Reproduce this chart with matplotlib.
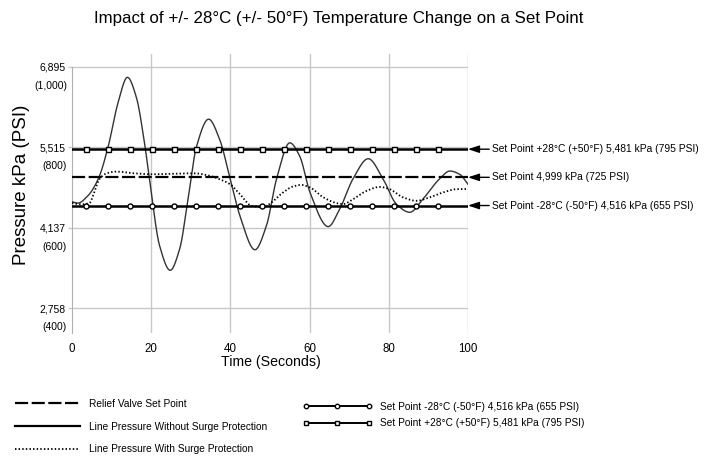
import numpy as np
import matplotlib
matplotlib.use("Agg")
import matplotlib.pyplot as plt
from matplotlib.lines import Line2D
from matplotlib.transforms import offset_copy, blended_transform_factory

NARROW = ["Liberation Sans Narrow", "Liberation Sans", "DejaVu Sans"]
REGULAR = ["Liberation Sans", "DejaVu Sans"]

# ---------------- data ----------------
time_no_surge = [0, 1.5, 4.0, 6.7, 9.1, 11.6, 14.0, 16.2, 18.3, 20.0, 22.1, 24.8,
                 27.2, 29.3, 31.4, 34.5, 37.3, 39.9, 42.4, 46.2, 49.1, 51.7, 55.0,
                 57.5, 60.1, 64.7, 67.6, 71.0, 74.8, 78.6, 81.9, 85.3, 88.6, 92.9,
                 95.4, 97.9, 100]
press_no_surge = [4580, 4558, 4682, 4983, 5515, 6270, 6712, 6382, 5590, 4740, 3832, 3407,
                  3776, 4626, 5515, 5995, 5646, 4983, 4342, 3759, 4172, 4983, 5590,
                  5362, 4740, 4155, 4456, 4978, 5318, 4966, 4541, 4400, 4626, 4978,
                  5107, 5051, 4881]

time_surge = [0, 2.3, 4.4, 5.6, 6.9, 8.6, 11.1, 15.7, 19.9, 26.6, 30.8, 34.5, 37.3,
              39.9, 42.4, 45.3, 48.3, 50.4, 53.3, 55.8, 57.9, 60.1, 63.5, 66.8, 68.5,
              71.0, 74.4, 77.7, 80.2, 83.6, 87.0, 90.3, 93.7, 97.1, 100]
press_surge = [4558, 4536, 4558, 4740, 4966, 5063, 5097, 5068, 5051, 5063, 5068, 5030, 4966,
               4881, 4711, 4512, 4485, 4570, 4740, 4842, 4869, 4825, 4655, 4558, 4541,
               4626, 4767, 4835, 4796, 4655, 4597, 4655, 4740, 4796, 4800]

relief_set_point = 4999
set_point_cold = 4516
set_point_hot = 5481
time_range = [0, 100]
marker_times = [3.5, 9.0, 14.7, 20.2, 25.8, 31.3, 36.9, 42.5, 48.0, 53.6, 59.1,
                64.7, 70.2, 75.8, 81.3, 86.9, 92.5]

y_ticks_kpa = [2758, 4137, 5515, 6895]
y_ticks_kpa_labels = ["2,758", "4,137", "5,515", "6,895"]
y_ticks_psi_labels = ["(400)", "(600)", "(800)", "(1,000)"]
x_ticks = [0, 20, 40, 60, 80, 100]

title = "Impact of +/- 28°C (+/- 50°F) Temperature Change on a Set Point"
ann_hot = "Set Point +28°C (+50°F) 5,481 kPa (795 PSI)"
ann_relief = "Set Point 4,999 kPa (725 PSI)"
ann_cold = "Set Point -28°C (-50°F) 4,516 kPa (655 PSI)"
legend_left = ["Relief Valve Set Point", "Line Pressure Without Surge Protection",
               "Line Pressure With Surge Protection"]
legend_right = ["Set Point -28°C (-50°F) 4,516 kPa (655 PSI)",
                "Set Point +28°C (+50°F) 5,481 kPa (795 PSI)"]


def pchip(x, y, xs):
    x = np.asarray(x, float)
    y = np.asarray(y, float)
    h = np.diff(x)
    delta = np.diff(y) / h
    n = len(x)
    d = np.zeros(n)
    for k in range(1, n - 1):
        if delta[k - 1] * delta[k] > 0:
            w1 = 2 * h[k] + h[k - 1]
            w2 = h[k] + 2 * h[k - 1]
            d[k] = (w1 + w2) / (w1 / delta[k - 1] + w2 / delta[k])
    d[0] = delta[0]
    d[-1] = delta[-1]
    idx = np.clip(np.searchsorted(x, xs) - 1, 0, n - 2)
    t = (xs - x[idx]) / h[idx]
    h00 = 2 * t**3 - 3 * t**2 + 1
    h10 = t**3 - 2 * t**2 + t
    h01 = -2 * t**3 + 3 * t**2
    h11 = t**3 - t**2
    return h00 * y[idx] + h10 * h[idx] * d[idx] + h01 * y[idx + 1] + h11 * h[idx] * d[idx + 1]


W, H = 709, 457
fig = plt.figure(figsize=(W / 100, H / 100), dpi=100)
ax = fig.add_axes([72 / W, 1 - 333 / H, (468 - 72) / W, (333 - 54) / H])

grid_c = "#c8c8c8"
ax.set_xlim(0, 100)
ax.set_ylim(2333, 7111)
ax.set_xticks(x_ticks)
ax.set_yticks(y_ticks_kpa)
ax.set_yticklabels(y_ticks_kpa_labels, fontfamily=NARROW, fontsize=7.5)
ax.set_xticklabels([str(v) for v in x_ticks], fontfamily=NARROW, fontsize=8.3)
ax.grid(True, color=grid_c, linewidth=1.0)
ax.xaxis.get_gridlines()[0].set_visible(False)
ax.tick_params(axis="x", length=0, pad=7.5)
ax.tick_params(axis="y", length=3, width=1, color=grid_c, pad=1.5)
for s in ["top", "right", "bottom"]:
    ax.spines[s].set_visible(False)
ax.spines["left"].set_color("#b0b0b0")
ax.spines["left"].set_bounds(2333, 6895)
ax.set_axisbelow(True)

# psi secondary labels under the kPa tick labels
trans = blended_transform_factory(ax.transAxes, ax.transData)
trans_psi = offset_copy(trans, fig=fig, x=-5, y=-19, units="dots")
for v, lab in zip(y_ticks_kpa, y_ticks_psi_labels):
    ax.text(0, v, lab, transform=trans_psi, ha="right", va="center",
            fontfamily=NARROW, fontsize=7.5)

# curves
ts = np.linspace(0, 100, 1200)
ax.plot(ts, pchip(time_no_surge, press_no_surge, ts), color="#333333", lw=1.0, zorder=3)
ax.plot(ts, pchip(time_surge, press_surge, ts), color="black", lw=1.3,
        linestyle=(0, (0.8, 1.2)), zorder=3)

# relief set point dashed
dash_style = (0, (5.9, 1.6))
ax.plot(time_range, [relief_set_point] * 2, color="black", lw=1.6, linestyle=dash_style, zorder=4)

# set point lines with markers
ax.plot(time_range, [set_point_hot] * 2, color="black", lw=1.8, zorder=4)
ax.plot(marker_times, [set_point_hot] * len(marker_times), linestyle="none", marker="s",
        markersize=3.6, markerfacecolor="white", markeredgecolor="black", mew=1.0, zorder=5)
ax.plot(time_range, [set_point_cold] * 2, color="black", lw=1.8, zorder=4)
ax.plot(marker_times, [set_point_cold] * len(marker_times), linestyle="none", marker="o",
        markersize=3.6, markerfacecolor="white", markeredgecolor="black", mew=1.0, zorder=5)

# annotations on the right
for v, txt in [(set_point_hot, ann_hot), (relief_set_point, ann_relief), (set_point_cold, ann_cold)]:
    ax.annotate(txt, xy=(100, v), xycoords="data", xytext=(24 * 0.72, 0),
                textcoords="offset points", ha="left", va="center",
                fontfamily=NARROW, fontsize=7.4, annotation_clip=False,
                arrowprops=dict(arrowstyle="-|>,head_length=0.9,head_width=0.3",
                                color="black", lw=1.0, shrinkA=0, shrinkB=0))

# titles
fig.text(339 / W, 1 - 18 / H, title, ha="center", va="center", fontfamily=NARROW, fontsize=12.2)
fig.text(22 / W, 1 - 185 / H, "Pressure kPa (PSI)", ha="center", va="center",
         rotation=90, fontfamily=REGULAR, fontsize=13.5)
fig.text(271 / W, 1 - 362 / H, "Time (Seconds)", ha="center", va="center",
         fontfamily=NARROW, fontsize=10.2)

# legends
h_left = [Line2D([], [], color="black", lw=1.6, linestyle=dash_style),
          Line2D([], [], color="black", lw=1.6),
          Line2D([], [], color="black", lw=1.3, linestyle=(0, (0.8, 1.2)))]
leg1 = fig.legend(h_left, legend_left, loc="upper left",
                  bbox_to_anchor=(15 / W, 1 - 399 / H), frameon=False,
                  prop={"family": NARROW, "size": 7.3}, handlelength=6.4,
                  handletextpad=0.9, labelspacing=1.25, borderpad=0, borderaxespad=0)

h_right = [Line2D([], [], color="black", lw=1.4, marker="o", markersize=3.2,
                  markerfacecolor="white", markeredgecolor="black"),
           Line2D([], [], color="black", lw=1.4, marker="s", markersize=3.2,
                  markerfacecolor="white", markeredgecolor="black")]
leg2 = fig.legend(h_right, legend_right, loc="upper left",
                  bbox_to_anchor=(303 / W, 1 - 402 / H), frameon=False, numpoints=3,
                  prop={"family": NARROW, "size": 7.3}, handlelength=6.8,
                  handletextpad=0.75, labelspacing=0.6, borderpad=0, borderaxespad=0)

fig.savefig("out.png", dpi=100)
